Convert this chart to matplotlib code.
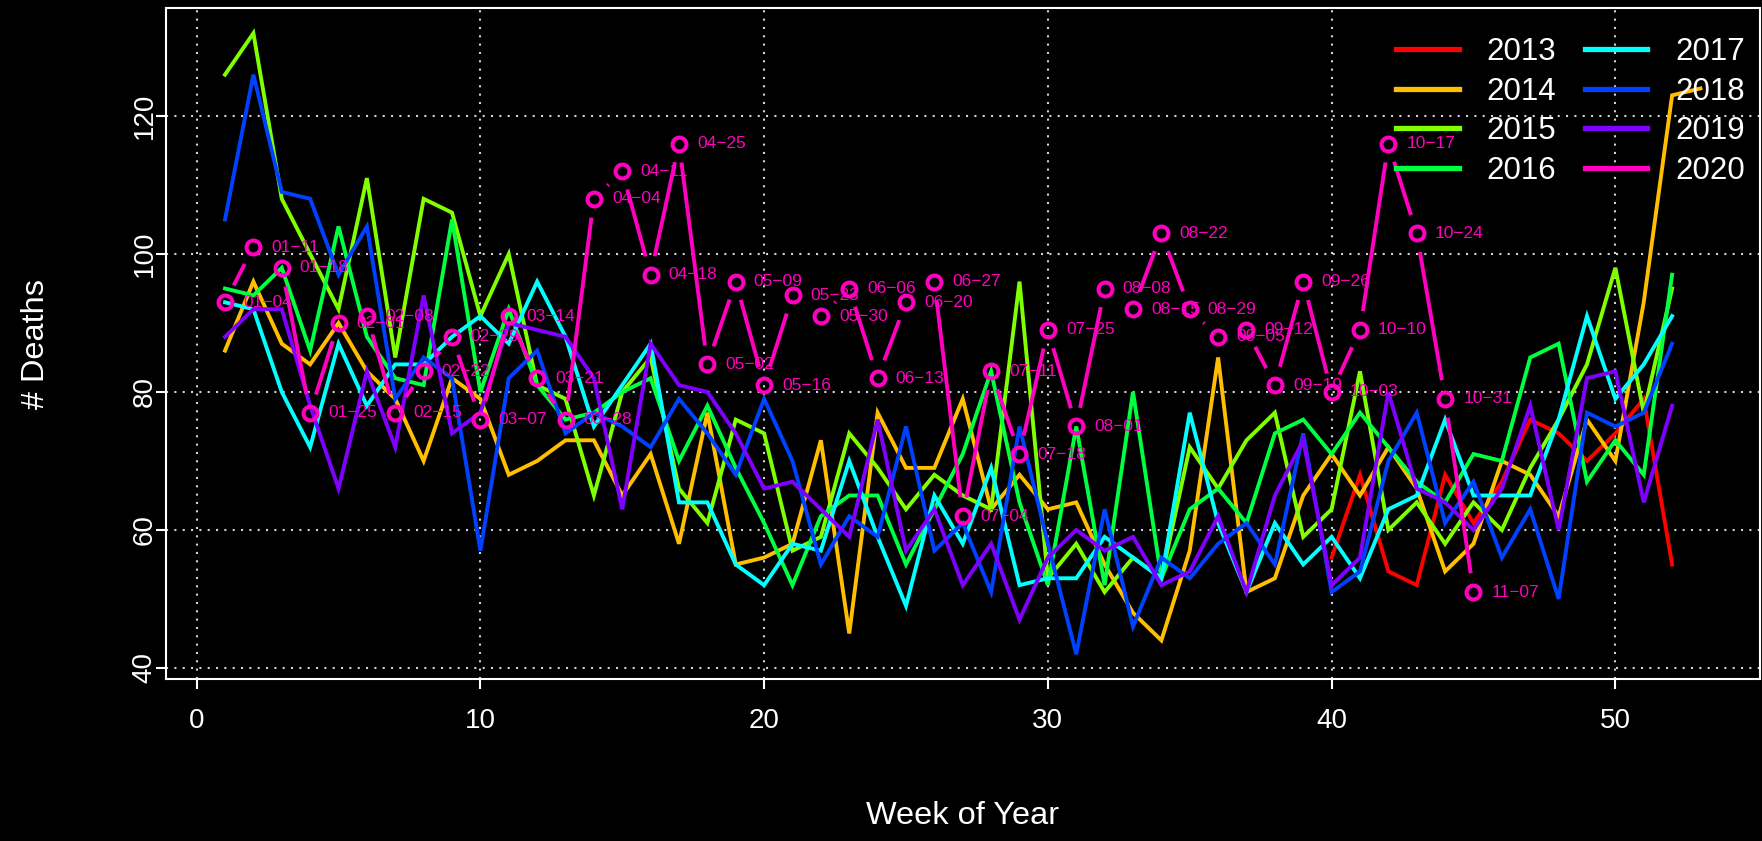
import numpy as np
import matplotlib
matplotlib.use("Agg")
import matplotlib.pyplot as plt
from matplotlib.collections import LineCollection
from matplotlib.lines import Line2D

plt.rcParams['font.family'] = ['Liberation Sans', 'DejaVu Sans']

# ---------------- data ----------------
years = ["2013", "2014", "2015", "2016", "2017", "2018", "2019", "2020"]
colors = ["#FF0000", "#FFBF00", "#80FF00", "#00FF40", "#00FFFF", "#0040FF", "#8000FF", "#FF00BF"]

weeks_2013 = list(range(40, 53))
deaths_2013 = [56, 68, 54, 52, 68, 61, 67, 76, 74, 70, 74, 79, 55]

weeks_2014 = list(range(1, 54))
deaths_2014 = [86, 96, 87, 84, 90, 83, 79, 70, 82, 79,
               68, 70, 73, 73, 65, 71, 58, 77, 55, 56,
               58, 73, 45, 77, 69, 69, 79, 63, 68, 63,
               64, 55, 48, 44, 57, 85, 51, 53, 65, 71,
               65, 72, 66, 54, 58, 70, 68, 62, 76, 70,
               93, 123, 124]

weeks_std = list(range(1, 53))
deaths_2015 = [126, 132, 108, 100, 92, 111, 85, 108, 106, 91,
               100, 81, 79, 65, 80, 85, 66, 61, 76, 74,
               57, 59, 74, 69, 63, 68, 65, 63, 96, 53,
               58, 51, 56, 53, 72, 66, 73, 77, 59, 63,
               83, 60, 64, 58, 64, 60, 69, 76, 84, 98,
               77, 95]
deaths_2016 = [95, 94, 98, 86, 104, 88, 82, 81, 105, 80,
               92, 81, 76, 77, 80, 82, 70, 78, 69, 61,
               52, 62, 65, 65, 55, 63, 71, 83, 64, 52,
               75, 52, 80, 53, 63, 66, 61, 74, 76, 71,
               77, 72, 67, 64, 71, 70, 85, 87, 67, 73,
               68, 97]
deaths_2017 = [93, 92, 80, 72, 87, 78, 84, 84, 88, 91,
               87, 96, 88, 75, 81, 87, 64, 64, 55, 52,
               58, 57, 70, 59, 49, 65, 58, 69, 52, 53,
               53, 59, 56, 53, 77, 61, 51, 61, 55, 59,
               53, 63, 65, 76, 65, 65, 65, 76, 91, 79,
               84, 91]
deaths_2018 = [105, 126, 109, 108, 97, 104, 79, 85, 82, 57,
               82, 86, 74, 77, 75, 72, 79, 74, 68, 79,
               70, 55, 62, 59, 75, 57, 61, 51, 75, 58,
               42, 63, 46, 56, 53, 58, 61, 55, 74, 51,
               54, 70, 77, 61, 67, 56, 63, 50, 77, 75,
               77, 87]
deaths_2019 = [88, 92, 92, 78, 66, 83, 72, 94, 74, 77,
               90, 89, 88, 82, 63, 87, 81, 80, 74, 66,
               67, 63, 59, 76, 57, 63, 52, 58, 47, 56,
               60, 57, 59, 52, 54, 62, 51, 65, 73, 52,
               56, 80, 66, 64, 60, 66, 78, 60, 82, 83,
               64, 78]

weeks_2020 = list(range(1, 46))
deaths_2020 = [93, 101, 98, 77, 90, 91, 77, 83, 88, 76,
               91, 82, 76, 108, 112, 97, 116, 84, 96, 81,
               94, 91, 95, 82, 93, 96, 62, 83, 71, 89,
               75, 95, 92, 103, 92, 88, 89, 81, 96, 80,
               89, 116, 103, 79, 51]
dates_2020 = ["01-04", "01-11", "01-18", "01-25", "02-01", "02-08", "02-15", "02-22", "02-29", "03-07",
              "03-14", "03-21", "03-28", "04-04", "04-11", "04-18", "04-25", "05-02", "05-09", "05-16",
              "05-23", "05-30", "06-06", "06-13", "06-20", "06-27", "07-04", "07-11", "07-18", "07-25",
              "08-01", "08-08", "08-15", "08-22", "08-29", "09-05", "09-12", "09-19", "09-26", "10-03",
              "10-10", "10-17", "10-24", "10-31", "11-07"]

x_ticks = [0, 10, 20, 30, 40, 50]
y_ticks = [40, 60, 80, 100, 120]

# ---------------- figure ----------------
W, H = 1762, 841
fig = plt.figure(figsize=(W / 100, H / 100), dpi=100, facecolor='black')
ax = fig.add_axes([166 / W, 1 - 679 / H, (1759.5 - 166) / W, (679 - 8.4) / H], facecolor='black')
ax.set_xlim(-1.08, 55.08)
ax.set_ylim(38.4, 135.6)

ax.set_xticks(x_ticks)
ax.set_yticks(y_ticks)
ax.grid(True, color='lightgray', linestyle=(0, (1, 3)), linewidth=1.5, zorder=0)
ax.set_axisbelow(True)

for s in ax.spines.values():
    s.set_color('white')
    s.set_linewidth(1.5)
ax.tick_params(colors='white', labelcolor='white', labelsize=20, length=7, width=1.5)
ax.tick_params(axis='x', pad=14)
ax.tick_params(axis='y', pad=-1)
for lab in ax.get_yticklabels():
    lab.set_rotation(90)
    lab.set_va('center')

ax.set_xlabel("Week of Year", color='white', fontsize=23.4, labelpad=48)
ax.set_ylabel("# Deaths", color='white', fontsize=23.4, labelpad=58)

lw = 2.8
series = [(weeks_2013, deaths_2013), (weeks_2014, deaths_2014), (weeks_std, deaths_2015),
          (weeks_std, deaths_2016), (weeks_std, deaths_2017), (weeks_std, deaths_2018),
          (weeks_std, deaths_2019)]
for (wx, wy), c in zip(series, colors[:7]):
    ax.plot(wx, wy, color=c, lw=lw, solid_joinstyle='miter', zorder=3)

# 2020: R type="b" -> points with gapped connecting segments
c20 = colors[7]
pts = ax.transData.transform(np.column_stack([weeks_2020, deaths_2020]))
gap = 19.0
segs = []
for p0, p1 in zip(pts[:-1], pts[1:]):
    d = p1 - p0
    L = np.hypot(d[0], d[1])
    if L > 2 * gap:
        u = d / L
        seg = np.array([p0 + u * gap, p1 - u * gap])
        segs.append(ax.transData.inverted().transform(seg))
ax.add_collection(LineCollection(segs, colors=c20, linewidths=lw, capstyle='butt', zorder=4))
ax.plot(weeks_2020, deaths_2020, linestyle='none', marker='o', markersize=10,
        markerfacecolor='none', markeredgecolor=c20, markeredgewidth=2.9, zorder=5)
for wx, wy, lab in zip(weeks_2020, deaths_2020, dates_2020):
    ax.annotate(lab.replace("-", "\u2212"), (wx, wy), xytext=(13, 0), textcoords='offset points',
                ha='left', va='center', color=c20, fontsize=12.5, zorder=6)

handles = [Line2D([0], [0], color=c, lw=3.8) for c in colors]
leg = ax.legend(handles, years, ncol=2, loc='upper right',
                bbox_to_anchor=(1745 / W, 1 - 37 / H), bbox_transform=fig.transFigure,
                frameon=False, fontsize=22.5, handlelength=2.0, handletextpad=0.9,
                columnspacing=0.9, labelspacing=0.31, borderpad=0, borderaxespad=0)
for t in leg.get_texts():
    t.set_color('white')

fig.savefig("out.png", dpi=100, facecolor='black')
